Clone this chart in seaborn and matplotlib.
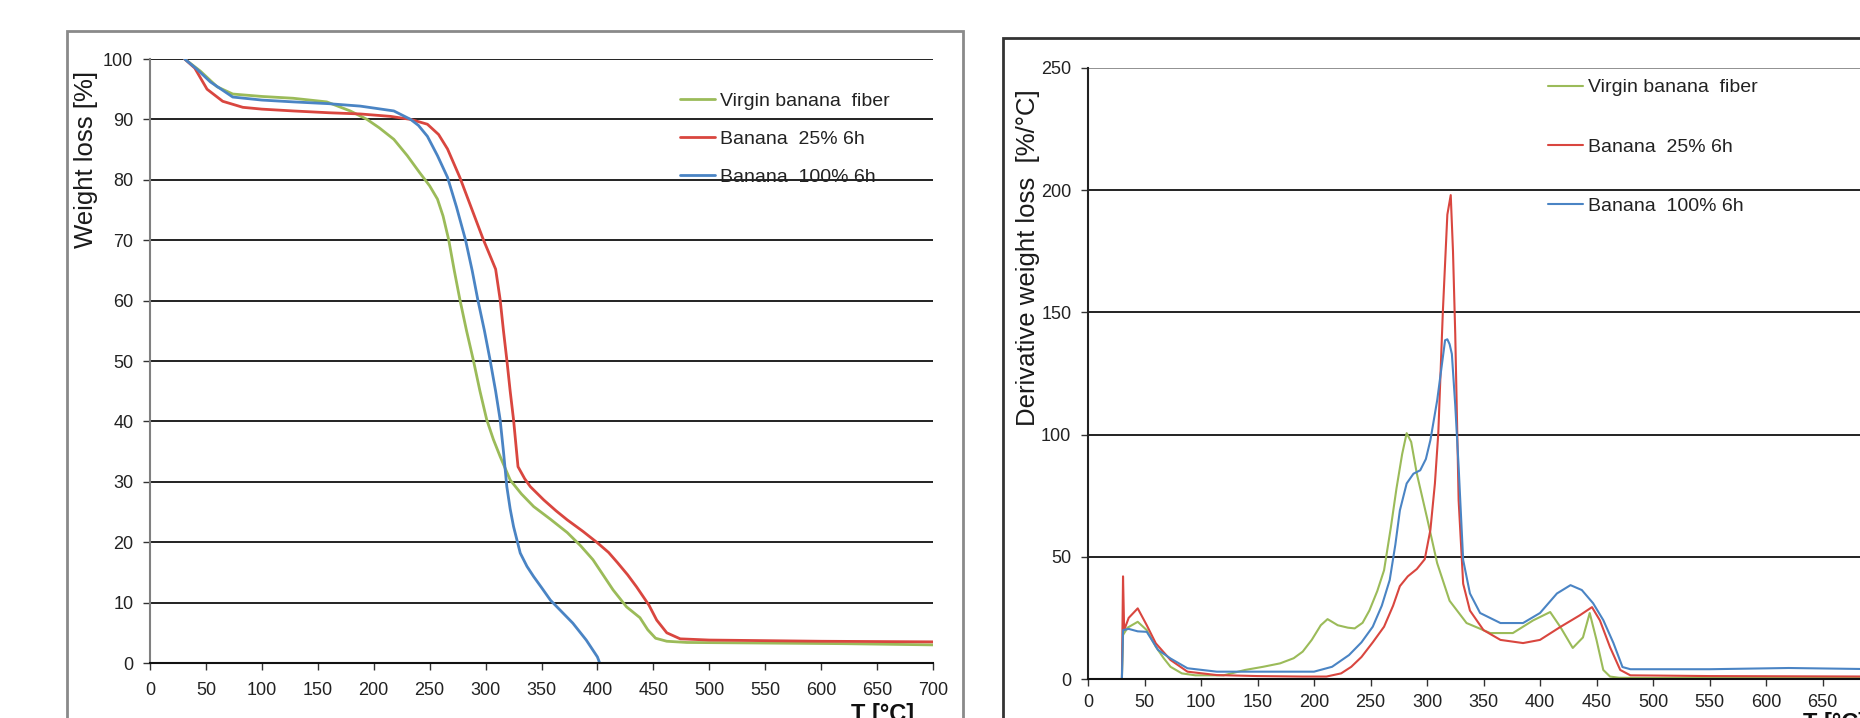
import pandas as pd
import seaborn as sns
import matplotlib.pyplot as plt
from matplotlib import font_manager
from matplotlib.patches import Rectangle

# --- TGA curves (weight loss %) ---
temp_virgin = [31, 45, 60, 74, 100, 128, 158, 179, 194, 205, 218, 230, 241, 250, 257, 262, 267, 272,
               277, 283, 289, 295, 301, 307, 313, 322, 332, 343, 358, 373, 385, 396, 405, 414, 426,
               438, 445, 452, 462, 480, 550, 620, 700]
wl_virgin = [100, 98.0, 95.4, 94.2, 93.8, 93.5, 92.9, 91.4, 90.0, 88.6, 86.7, 84.0, 81.2, 79.0, 76.8,
             74.0, 70.1, 65.0, 60.2, 55.0, 50.2, 45.0, 40.3, 37.0, 34.2, 30.3, 28.0, 25.9, 23.8, 21.6,
             19.4, 17.1, 14.6, 12.1, 9.3, 7.5, 5.5, 4.1, 3.6, 3.4, 3.3, 3.2, 3.0]

temp_b25 = [31, 40, 51, 65, 83, 100, 128, 160, 188, 215, 233, 248, 258, 266, 277, 288, 298, 305, 309,
            313, 316, 319, 322, 325, 329, 335, 340, 352, 363, 373, 387, 400, 410, 418, 427, 435, 446,
            453, 462, 474, 500, 600, 700]
wl_b25 = [100, 98.5, 95.0, 93.0, 92.0, 91.7, 91.4, 91.1, 90.9, 90.5, 90.0, 89.2, 87.5, 85.1, 80.4,
          75.0, 70.1, 67.0, 65.2, 60.2, 55.0, 50.2, 45.0, 40.3, 32.5, 30.5, 29.2, 27.0, 25.2, 23.7,
          21.8, 19.9, 18.3, 16.6, 14.6, 12.6, 9.6, 7.1, 5.0, 4.0, 3.8, 3.6, 3.5]

temp_b100 = [31, 42, 54, 74, 100, 128, 160, 188, 218, 233, 240, 248, 257, 266, 274, 282, 288, 293,
             299, 304, 309, 313, 316, 319, 322, 325, 331, 337, 343, 350, 358, 368, 378, 390, 400, 402]
wl_b100 = [100, 98.3, 96.2, 93.7, 93.2, 92.9, 92.6, 92.2, 91.4, 90.0, 89.0, 87.2, 84.0, 80.4, 75.5,
           70.1, 65.0, 60.2, 55.0, 50.2, 45.0, 40.3, 35.0, 29.2, 25.5, 22.6, 18.2, 16.0, 14.3, 12.5,
           10.4, 8.5, 6.6, 3.8, 1.0, 0.0]

# --- DTG curves (derivative weight loss %/°C) ---
dtemp_virgin = [30, 31, 35, 44, 52, 60, 67, 73, 83, 95, 120, 139, 155, 170, 182, 190, 198, 206, 212,
                221, 230, 236, 243, 249, 256, 262, 268, 273, 278, 282, 286, 291, 300, 309, 320, 335,
                356, 376, 394, 409, 418, 429, 438, 444, 450, 456, 462, 470, 500, 600, 700]
dtg_virgin = [0, 18, 21, 23.4, 20, 13.2, 8.5, 5, 2.3, 1.5, 1.5, 3.7, 5, 6.4, 8.5, 11.2, 16, 22, 24.5,
              22, 21, 20.7, 23, 28, 36, 44.5, 62, 78, 92, 100.6, 97, 84, 66, 47.4, 32, 22.9, 18.8,
              18.8, 24, 27.4, 21.3, 12.7, 17, 27, 16, 3.7, 1.0, 0.5, 0.4, 0.4, 0.4]

dtemp_b25 = [30, 31, 32, 36, 44, 52, 60, 73, 88, 114, 150, 190, 211, 224, 233, 242, 252, 262, 270,
             276, 283, 291, 298, 303, 307, 310, 314, 318, 321, 323, 325, 328, 332, 338, 350, 365,
             385, 400, 418, 435, 446, 453, 462, 471, 480, 550, 700]
dtg_b25 = [0, 42, 20, 25, 28.9, 22, 14.6, 7.8, 3, 1.6, 1.2, 1, 1, 2.3, 5, 9, 15, 21.4, 30, 38, 42,
           45, 49, 61, 80, 100.6, 150, 190, 198, 175, 141, 73, 39, 28, 20, 16, 14.7, 16, 21.3, 26,
           29.4, 24, 13, 3.7, 1.5, 1.2, 1.0]

dtemp_b100 = [30, 31, 36, 44, 52, 62, 73, 88, 114, 150, 200, 216, 231, 242, 252, 260, 267, 272, 276,
              282, 288, 294, 299, 303, 309, 313, 316, 318, 320, 322, 325, 328, 332, 338, 347, 365,
              385, 400, 415, 427, 437, 447, 456, 465, 473, 480, 550, 620, 700]
dtg_b100 = [0, 20, 20.5, 19.5, 19.3, 11.9, 8.4, 4.4, 3, 3, 3, 5, 9.8, 15, 21.4, 30, 40.5, 55, 69, 80,
            84, 85.4, 90, 97.7, 114, 128, 138.6, 139, 137, 133, 112, 86.7, 48.7, 35, 27, 22.9, 22.9,
            27, 35, 38.4, 36.4, 31, 24.1, 14.7, 4.9, 4, 4, 4.5, 4]

series_names = ['Virgin banana  fiber', 'Banana  25% 6h', 'Banana  100% 6h']
series_colors = ['#9BBB59', '#D9463F', '#4A84C4']
x_ticks = list(range(0, 701, 50))
tga_ticks = list(range(0, 101, 10))
dtg_ticks = list(range(0, 251, 50))

tga = pd.concat([
    pd.DataFrame({'T': temp_virgin, 'val': wl_virgin, 'sample': series_names[0]}),
    pd.DataFrame({'T': temp_b25, 'val': wl_b25, 'sample': series_names[1]}),
    pd.DataFrame({'T': temp_b100, 'val': wl_b100, 'sample': series_names[2]}),
])
dtg = pd.concat([
    pd.DataFrame({'T': dtemp_virgin, 'val': dtg_virgin, 'sample': series_names[0]}),
    pd.DataFrame({'T': dtemp_b25, 'val': dtg_b25, 'sample': series_names[1]}),
    pd.DataFrame({'T': dtemp_b100, 'val': dtg_b100, 'sample': series_names[2]}),
])

sns.set_theme(style='white')
names = {f.name for f in font_manager.fontManager.ttflist}
narrow = 'Liberation Sans Narrow' in names
tick_family = ['Liberation Sans Narrow' if narrow else 'Liberation Sans', 'DejaVu Sans']
tick_size = 14.5 if narrow else 13
plt.rcParams['font.family'] = ['Liberation Sans', 'DejaVu Sans']

W, H = 1860, 718


def fx(px):
    return px / W


def fy(py):
    return 1 - py / H


fig = plt.figure(figsize=(18.6, 7.18), dpi=100)

# chart area frames (Excel style)
fig.patches.append(Rectangle((fx(67), -0.2), fx(963) - fx(67), fy(31) + 0.2, fill=False,
                             edgecolor='#8a8a8a', lw=2, transform=fig.transFigure, figure=fig))
fig.patches.append(Rectangle((fx(1003), -0.2), 0.6, fy(38) + 0.2, fill=False,
                             edgecolor='#333333', lw=2, transform=fig.transFigure, figure=fig))

ax1 = fig.add_axes([fx(150), fy(663), fx(933) - fx(150), fy(59) - fy(663)])
ax2 = fig.add_axes([fx(1088), fy(679), fx(1879) - fx(1088), fy(68) - fy(679)])

sns.lineplot(data=tga, x='T', y='val', hue='sample', hue_order=series_names,
             palette=series_colors, estimator=None, sort=False, lw=2, ax=ax1)
sns.lineplot(data=dtg, x='T', y='val', hue='sample', hue_order=series_names,
             palette=series_colors, estimator=None, sort=False, lw=1.5, ax=ax2)

for ax, yt, ylim, axis_col in [(ax1, tga_ticks, (0, 100), '#808080'),
                               (ax2, dtg_ticks, (0, 250), '#222222')]:
    ax.set_xlim(0, 700)
    ax.set_ylim(*ylim)
    ax.set_xticks(x_ticks)
    ax.set_yticks(yt)
    ax.set_facecolor('none')
    ax.yaxis.grid(True, color='#111111', lw=1.3)
    ax.set_axisbelow(True)
    for s in ['top', 'right']:
        ax.spines[s].set_visible(False)
    ax.spines['left'].set_color(axis_col)
    ax.spines['left'].set_linewidth(1.5)
    ax.spines['bottom'].set_color('#111111')
    ax.spines['bottom'].set_linewidth(1.5)
    ax.tick_params(axis='both', direction='out', length=5, width=1, color='#333333',
                   labelsize=tick_size, labelcolor='#222222', left=True, bottom=True)
    ax.tick_params(axis='y', pad=7)
    for lab in ax.get_xticklabels() + ax.get_yticklabels():
        lab.set_family(tick_family)
    ax.set_xlabel('')
    ax.set_ylabel('')

ax1.tick_params(axis='x', pad=9)
ax2.tick_params(axis='x', pad=6)
ax2.yaxis.get_gridlines()[-1].set_color('#888888')

fig.text(fx(86), fy(159), 'Weight loss [%]', rotation=90, ha='center', va='center',
         fontsize=18.5, color='#1a1a1a')
fig.text(fx(1028), fy(258), 'Derivative weight loss  [%/°C]', rotation=90, ha='center',
         va='center', fontsize=18.5, color='#1a1a1a')
fig.text(fx(883), fy(703), 'T [°C]', ha='center', va='top', fontsize=17, fontweight='bold',
         color='#111111')
fig.text(fx(1803), fy(712), 'T [°C]', ha='left', va='top', fontsize=17, fontweight='bold',
         color='#111111')

h, l = ax1.get_legend_handles_labels()
ax1.legend(h, l, loc='center left', bbox_to_anchor=(fx(680), fy(139)),
           bbox_transform=fig.transFigure, frameon=False, fontsize=14, handlelength=1.8,
           handletextpad=0.25, labelspacing=1.05, borderpad=0, borderaxespad=0,
           labelcolor='#222222')
h, l = ax2.get_legend_handles_labels()
ax2.legend(h, l, loc='center left', bbox_to_anchor=(fx(1548), fy(147)),
           bbox_transform=fig.transFigure, frameon=False, fontsize=14, handlelength=1.8,
           handletextpad=0.25, labelspacing=2.15, borderpad=0, borderaxespad=0,
           labelcolor='#222222')

fig.savefig('out.png', dpi=100)
